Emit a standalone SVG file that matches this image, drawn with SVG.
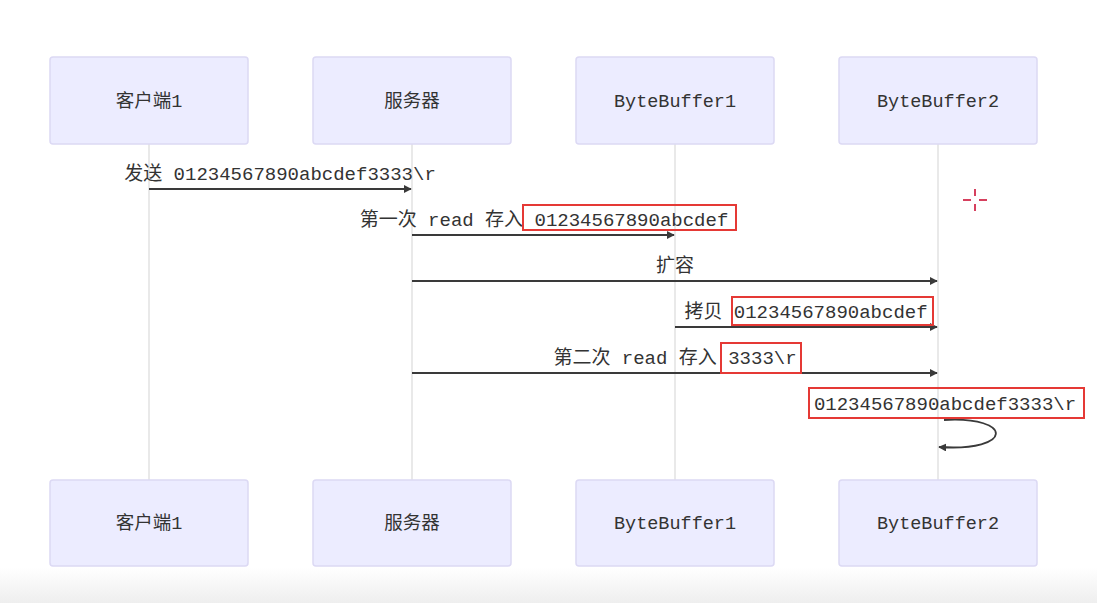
<svg xmlns="http://www.w3.org/2000/svg" width="1097" height="603" viewBox="0 0 1097 603">
<defs>
<style>
.actor{fill:#ECECFF;stroke:#dcd9f4;stroke-width:1.5}
.lbl{font-family:"Liberation Mono","Noto Sans CJK SC",monospace;font-size:18.5px;fill:#333;text-anchor:middle}
.msg{font-family:"Liberation Mono","Noto Sans CJK SC",monospace;font-size:19px;fill:#333;text-anchor:middle}
.life{stroke:#e2e2e2;stroke-width:1.5}
.arr{stroke:#3a3a3a;stroke-width:1.8;fill:none;marker-end:url(#ah)}
.hl{fill:none;stroke:#e53935;stroke-width:2}
</style>
<marker id="ah" viewBox="0 0 10 10" refX="9" refY="5" markerWidth="8" markerHeight="8" orient="auto" markerUnits="userSpaceOnUse">
<path d="M0,0 L10,5 L0,10 z" fill="#3a3a3a"/>
</marker>
<linearGradient id="bg" x1="0" y1="0" x2="0" y2="1">
<stop offset="0" stop-color="#ffffff"/>
<stop offset="1" stop-color="#eeeeee"/>
</linearGradient>
</defs>
<rect width="1097" height="603" fill="#ffffff"/>
<rect x="0" y="568" width="1097" height="35" fill="url(#bg)"/>
<g id="lifelines">
<line class="life" x1="149" y1="144" x2="149" y2="480"/>
<line class="life" x1="412" y1="144" x2="412" y2="480"/>
<line class="life" x1="675" y1="144" x2="675" y2="480"/>
<line class="life" x1="938" y1="144" x2="938" y2="480"/>
</g>
<g id="client-top"><rect class="actor" x="50" y="57" width="198" height="87" rx="3"/><text class="lbl" x="149" y="107">客户端1</text></g>
<g id="server-top"><rect class="actor" x="313" y="57" width="198" height="87" rx="3"/><text class="lbl" x="412" y="107">服务器</text></g>
<g id="bb1-top"><rect class="actor" x="576" y="57" width="198" height="87" rx="3"/><text class="lbl" x="675" y="107">ByteBuffer1</text></g>
<g id="bb2-top"><rect class="actor" x="839" y="57" width="198" height="87" rx="3"/><text class="lbl" x="938" y="107">ByteBuffer2</text></g>
<g id="client-bottom"><rect class="actor" x="50" y="480" width="198" height="86" rx="3"/><text class="lbl" x="149" y="529">客户端1</text></g>
<g id="server-bottom"><rect class="actor" x="313" y="480" width="198" height="86" rx="3"/><text class="lbl" x="412" y="529">服务器</text></g>
<g id="bb1-bottom"><rect class="actor" x="576" y="480" width="198" height="86" rx="3"/><text class="lbl" x="675" y="529">ByteBuffer1</text></g>
<g id="bb2-bottom"><rect class="actor" x="839" y="480" width="198" height="86" rx="3"/><text class="lbl" x="938" y="529">ByteBuffer2</text></g>
<g id="connectors">
<line class="arr" x1="149" y1="189" x2="411" y2="189"/>
<text class="msg" x="280" y="180">发送 01234567890abcdef3333\r</text>
<line class="arr" x1="412" y1="235" x2="674" y2="235"/>
<text class="msg" x="544" y="226">第一次 read 存入 01234567890abcdef</text>
<line class="arr" x1="412" y1="281" x2="937" y2="281"/>
<text class="msg" x="675" y="272">扩容</text>
<line class="arr" x1="675" y1="327" x2="937" y2="327"/>
<text class="msg" x="806" y="318">拷贝 01234567890abcdef</text>
<line class="arr" x1="412" y1="373" x2="937" y2="373"/>
<text class="msg" x="675" y="364">第二次 read 存入 3333\r</text>
<path class="arr" d="M944,420 C1014,416 1014,452 939,447"/>
<text class="msg" x="945" y="410">01234567890abcdef3333\r</text>
</g>
<g id="highlights">
<rect class="hl" x="523" y="205" width="213" height="25"/>
<rect class="hl" x="732" y="297" width="201" height="28"/>
<rect class="hl" x="721" y="343" width="80" height="30"/>
<rect class="hl" x="809" y="388" width="275" height="30"/>
</g>
<g id="cursor" stroke="#d6405e" stroke-width="2">
<line x1="975" y1="189" x2="975" y2="196"/>
<line x1="975" y1="204" x2="975" y2="211"/>
<line x1="963" y1="200" x2="971" y2="200"/>
<line x1="979" y1="200" x2="987" y2="200"/>
</g>
</svg>
